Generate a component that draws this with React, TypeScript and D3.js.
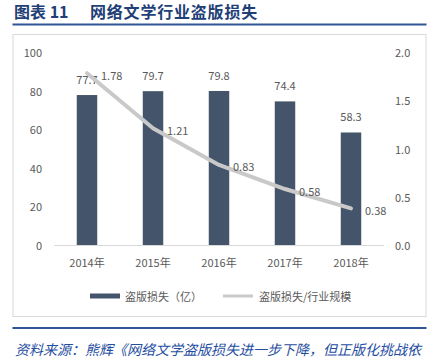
import React from "react";
import * as d3 from "d3";

const years = ["2014年", "2015年", "2016年", "2017年", "2018年"];
const piracyLoss = [77.7, 79.7, 79.8, 74.4, 58.3];
const lossRatio = [1.78, 1.21, 0.83, 0.58, 0.38];
const leftTicks = [0, 20, 40, 60, 80, 100];
const rightTicks = [0, 0.5, 1.0, 1.5, 2.0];
const titleLabel = "图表 11";
const titleText = "网络文学行业盗版损失";
const legendBar = "盗版损失（亿）";
const legendLine = "盗版损失/行业规模";
const sourceText = "资料来源：熊辉《网络文学盗版损失进一步下降，但正版化挑战依";

const FONT = "'Noto Sans CJK SC', 'Noto Sans', sans-serif";

export default function App() {
  const x = d3.scaleBand<string>().domain(years).range([54, 384]).paddingInner(0.69).paddingOuter(0.345);
  const yL = d3.scaleLinear().domain([0, 100]).range([245, 52]);
  const yR = d3.scaleLinear().domain([0, 2]).range([245, 52]);
  const cx = (i: number) => (x(years[i]) as number) + x.bandwidth() / 2;
  const line = d3
    .line<number>()
    .x((_, i) => cx(i))
    .y((d) => yR(d));

  return (
    <svg
      width={438}
      height={360}
      style={{ position: "absolute", left: 0, top: 0, background: "#fff" }}
      fontFamily={FONT}
    >
      <text x={14} y={18} fontSize={16} fontWeight="bold" fill="#1F3F77">
        {titleLabel}
      </text>
      <text x={90} y={18} fontSize={16} fontWeight="bold" fill="#1F3F77" letterSpacing={0.8}>
        {titleText}
      </text>
      <rect x={12.5} y={23.5} width={414} height={2} fill="#2E5597" />
      <rect x={13} y={34.5} width={413} height={282} fill="#fff" stroke="#D9D9D9" strokeWidth={1} />

      {/* axis baseline */}
      <line x1={54} x2={384} y1={245.5} y2={245.5} stroke="#D9D9D9" strokeWidth={1} />

      {/* left ticks */}
      {leftTicks.map((t) => (
        <text key={"l" + t} x={42} y={yL(t)} fontSize={11} fill="#595959" textAnchor="end" dominantBaseline="central">
          {t}
        </text>
      ))}
      {rightTicks.map((t) => (
        <text key={"r" + t} x={395} y={yR(t)} fontSize={11} fill="#595959" textAnchor="start" dominantBaseline="central">
          {t.toFixed(1)}
        </text>
      ))}

      {/* bars */}
      {piracyLoss.map((v, i) => (
        <rect
          key={"b" + i}
          x={x(years[i])}
          y={yL(v)}
          width={x.bandwidth()}
          height={yL(0) - yL(v)}
          fill="#44546A"
        />
      ))}
      {piracyLoss.map((v, i) => (
        <text key={"bl" + i} x={cx(i)} y={yL(v) - 11} fontSize={11} fill="#595959" textAnchor="middle">
          {v.toFixed(1)}
        </text>
      ))}

      {/* line */}
      <path d={line(lossRatio) || ""} fill="none" stroke="#C9C9C9" strokeWidth={4} strokeLinejoin="round" strokeLinecap="round" />
      {lossRatio.map((v, i) => (
        <text key={"ll" + i} x={cx(i) + 14} y={yR(v) + 1.5} fontSize={11} fill="#595959" textAnchor="start" dominantBaseline="central">
          {v.toFixed(2)}
        </text>
      ))}

      {/* x labels */}
      {years.map((y, i) => (
        <text key={"x" + i} x={cx(i)} y={267} fontSize={11} fill="#595959" textAnchor="middle">
          {y}
        </text>
      ))}

      {/* legend */}
      <rect x={90} y={293.5} width={30} height={5} fill="#44546A" />
      <text x={125} y={296} fontSize={11} fill="#595959" dominantBaseline="central">
        {legendBar}
      </text>
      <line x1={223} x2={253} y1={296} y2={296} stroke="#C9C9C9" strokeWidth={3} />
      <text x={259} y={296} fontSize={11} fill="#595959" dominantBaseline="central">
        {legendLine}
      </text>

      <rect x={12.5} y={327} width={414} height={2} fill="#2E5597" />
      <text x={15} y={355} fontSize={14} fill="#1F4E9F" fontStyle="italic">
        {sourceText}
      </text>
    </svg>
  );
}
